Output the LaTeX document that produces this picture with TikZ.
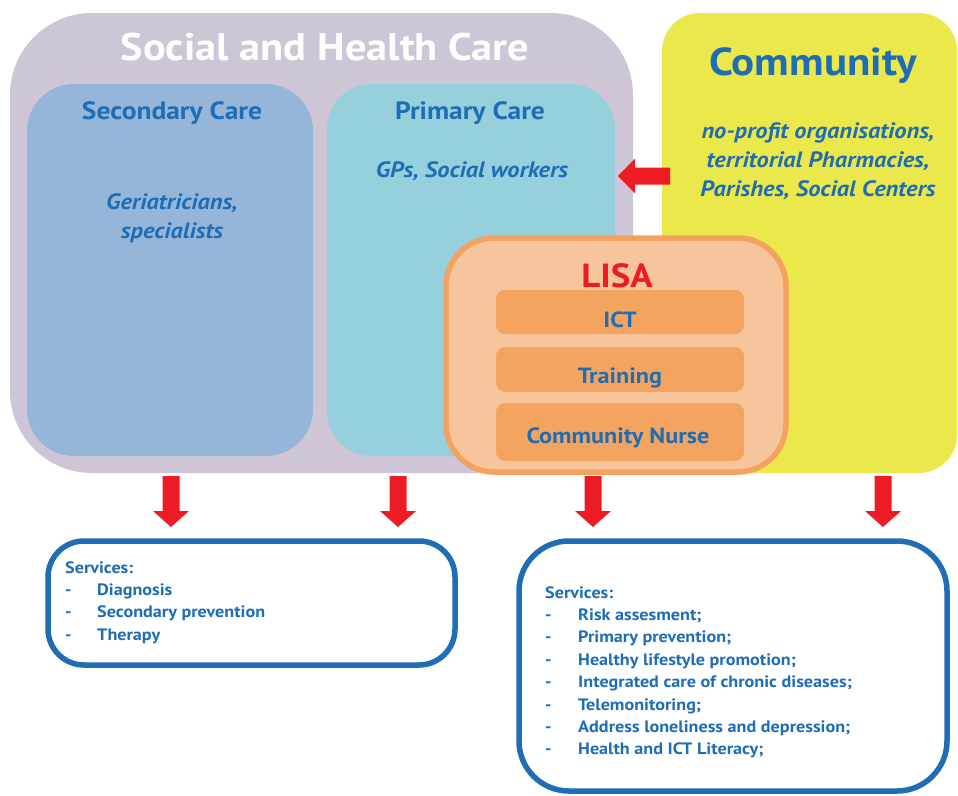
\documentclass[tikz,border=0pt]{standalone}
\usepackage{fontspec}
\setmainfont{PT Sans}[FakeStretch=1.1]
\usetikzlibrary{positioning}
\definecolor{shcpurple}{HTML}{CEC5D7}
\definecolor{secblue}{HTML}{95B6D8}
\definecolor{primcyan}{HTML}{95D0DC}
\definecolor{commyellow}{HTML}{EBE84B}
\definecolor{lisafill}{HTML}{F6C59B}
\definecolor{lisaline}{HTML}{F3A35E}
\definecolor{barorange}{HTML}{F4A45F}
\definecolor{txtblue}{HTML}{1F6DB5}
\definecolor{arrowred}{HTML}{ED1C24}
\begin{document}
\begin{tikzpicture}[x=1pt,y=-1pt,
  box/.style={inner sep=0pt,outer sep=0pt},
  title/.style={inner sep=0pt,anchor=base,text=txtblue,font=\bfseries\fontsize{25}{30}\selectfont},
  subtxt/.style={inner sep=0pt,anchor=base,text=txtblue,font=\bfseries\itshape\fontsize{22.2}{28.6}\selectfont,align=center},
  bartxt/.style={inner sep=0pt,anchor=base,text=txtblue,font=\bfseries\fontsize{22}{26}\selectfont},
  lisabar/.style={box,fill=barorange,rounded corners=9pt,minimum width=248pt},
  svcbox/.style={box,draw=txtblue,line width=5.5pt,fill=white},
  svctxt/.style={inner sep=0pt,anchor=base west,text=txtblue,font=\bfseries\fontsize{16.5}{22.4}\selectfont}
]
\useasboundingbox (0,0) rectangle (958,795);
% containers
\node[box,fill=shcpurple,rounded corners=82pt,minimum width=623pt,minimum height=460pt] (shc) at (321.5,243) {};
\node[box,fill=commyellow,rounded corners=38pt,minimum width=295pt,minimum height=460pt] (comm) at (809.5,243) {};
\fill[commyellow,shift={(comm.north west)}] (0,55) .. controls (0,25) and (25,0) .. (55,0) -- (60,0) -- (60,60) -- (0,60) -- cycle;
\node[box,fill=secblue,rounded corners=47pt,minimum width=286pt,minimum height=372pt] (sec) at (170,270) {};
\node[box,fill=primcyan,rounded corners=45pt,minimum width=288pt,minimum height=372pt] (prim) at (471,270) {};
\node[box,fill=lisafill,draw=lisaline,line width=5.5pt,rounded corners=48pt,minimum width=340pt,minimum height=234pt] (lisa) at (616,355) {};
% bars
\node[lisabar,minimum height=44pt] (ict) at (620,312) {};
\node[lisabar,minimum height=45pt] (train) at (620,369.5) {};
\node[lisabar,minimum height=58pt] (nurse) at (620,432) {};
% titles
\node[title,text=white,font=\bfseries\fontsize{38.5}{44}\selectfont] (shct) at (325,60) {Social and Health Care};
\node[title] (sect) at (172,119) {Secondary Care};
\node[title] (primt) at (470,119) {Primary Care};
\node[title,font=\bfseries\fontsize{39}{46}\selectfont] (commt) at (813,75) {Community};
\node[title,text=arrowred,font=\bfseries\fontsize{33.5}{40}\selectfont] (lisat) at (617,287) {LISA};
\node[subtxt] (gps) at (472,177) {GPs, Social workers};
\node[subtxt] (geri) at (172,238) {Geriatricians,\\specialists};
\node[subtxt] (org) at (818,196) {no-profit organisations,\\territorial Pharmacies,\\Parishes, Social Centers};
\node[bartxt] (ictt) at (620,327) {ICT};
\node[bartxt] (traint) at (620,383) {Training};
\node[bartxt] (nurset) at (618,443) {Community Nurse};
% service boxes
\node[svcbox,rounded corners=36pt,minimum width=407pt,minimum height=124pt] (svcl) at (251.5,603) {};
\node[svcbox,rounded corners=50pt,minimum width=428pt,minimum height=250pt] (svcr) at (733,666) {};
\node[svctxt] (svclt) at (65,573) {\begin{tabular}[t]{@{}p{32pt}@{}l@{}}
\multicolumn{2}{@{}l@{}}{Services:}\\
-&Diagnosis\\
-&Secondary prevention\\
-&Therapy
\end{tabular}};
\node[svctxt] (svcrt) at (545,598) {\begin{tabular}[t]{@{}p{33pt}@{}l@{}}
\multicolumn{2}{@{}l@{}}{Services:}\\
-&Risk assesment;\\
-&Primary prevention;\\
-&Healthy lifestyle promotion;\\
-&Integrated care of chronic diseases;\\
-&Telemonitoring;\\
-&Address loneliness and depression;\\
-&Health and ICT Literacy;
\end{tabular}};
% arrows
\coordinate (a1) at (171,476);
\coordinate (a2) at (398,476);
\coordinate (a3) at (593,476);
\coordinate (a4) at (883,476);
\foreach \c in {a1,a2,a3,a4}{
  \fill[arrowred,shift={(\c)}] (-8.5,0) -- (-8.5,35) -- (-18,35) -- (0,51) -- (18,35) -- (8.5,35) -- (8.5,0) -- cycle;
}
\coordinate (la) at (618,176);
\fill[arrowred,shift={(la)}] (0,0) -- (17,-17.5) -- (17,-8.5) -- (52,-8.5) -- (52,8.5) -- (17,8.5) -- (17,17.5) -- cycle;
\end{tikzpicture}
\end{document}
